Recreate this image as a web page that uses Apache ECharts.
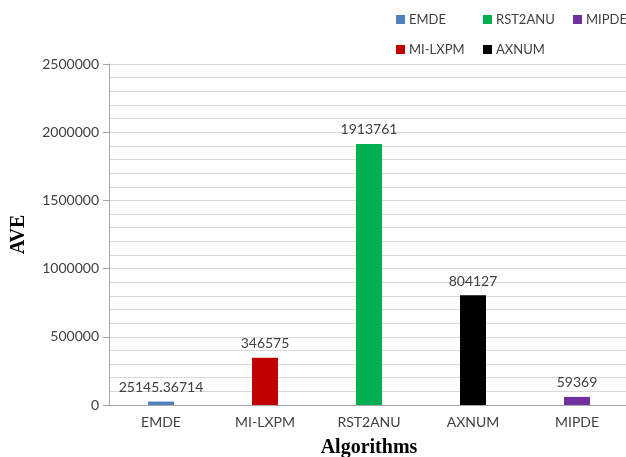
<!DOCTYPE html>
<html>
<head>
<meta charset="utf-8">
<script src="https://cdn.jsdelivr.net/npm/echarts@6/dist/echarts.min.js"></script>
<style>
  html, body { margin: 0; padding: 0; background: #ffffff; }
  #chart { width: 626px; height: 457px; }
</style>
</head>
<body>
<div id="chart"></div>
<script>
// Algorithm names on the category axis
const categories = ['EMDE', 'MI-LXPM', 'RST2ANU', 'AXNUM', 'MIPDE'];
// Average value for each algorithm
const aveValues = [25145.36714, 346575, 1913761, 804127, 59369];
// Colour for each algorithm's bar
const barColors = ['#4f81bd', '#c00000', '#00b050', '#000000', '#7030a0'];

const labelFont = 'Lato, "Open Sans", sans-serif';
const textColor = '#404040';

// One series per algorithm, each holding only its own category value
const series = categories.map((name, i) => ({
  name: name,
  type: 'bar',
  stack: 'ave',
  barWidth: 26,
  itemStyle: { color: barColors[i] },
  label: {
    show: true,
    position: 'top',
    distance: 7,
    color: textColor,
    fontFamily: labelFont,
    fontSize: 14,
    formatter: (p) => String(aveValues[p.dataIndex])
  },
  data: categories.map((c, j) => (j === i ? aveValues[i] : '-'))
}));

// Legend entries placed in two rows at the top right
const legendSpots = [
  { name: 'EMDE', left: 396, top: 13 },
  { name: 'RST2ANU', left: 483, top: 13 },
  { name: 'MIPDE', left: 573, top: 13 },
  { name: 'MI-LXPM', left: 396, top: 43 },
  { name: 'AXNUM', left: 483, top: 43 }
];
const legends = legendSpots.map(s => ({
  data: [s.name],
  left: s.left,
  top: s.top,
  padding: 0,
  icon: 'rect',
  itemWidth: 9,
  itemHeight: 9,
  itemGap: 0,
  selectedMode: false,
  textStyle: { color: textColor, fontFamily: labelFont, fontSize: 13, padding: [0, 0, 0, -1] }
}));

const chart = echarts.init(document.getElementById('chart'), null, { renderer: 'canvas' });
chart.setOption({
  animation: false,
  backgroundColor: '#ffffff',
  legend: legends,
  grid: { left: 109, top: 64, width: 520, height: 341, containLabel: false, outerBoundsMode: 'none' },
  xAxis: {
    type: 'category',
    data: categories,
    name: 'Algorithms',
    nameLocation: 'middle',
    nameGap: 33,
    nameTextStyle: { fontFamily: '"Liberation Serif", "Times New Roman", serif', fontWeight: 'bold', fontSize: 20, color: '#000000' },
    axisLine: { lineStyle: { color: '#a6a6a6', width: 1 } },
    axisTick: { show: false },
    axisLabel: { color: textColor, fontFamily: labelFont, fontSize: 14, margin: 10 }
  },
  yAxis: {
    type: 'value',
    min: 0,
    max: 2500000,
    interval: 500000,
    name: 'AVE',
    nameLocation: 'middle',
    nameRotate: 90,
    nameGap: 80,
    nameTextStyle: { fontFamily: '"Liberation Serif", "Times New Roman", serif', fontWeight: 'bold', fontSize: 20, color: '#000000' },
    axisLine: { show: true, lineStyle: { color: '#a6a6a6', width: 1 } },
    axisTick: { show: true, length: 6, lineStyle: { color: '#a6a6a6' } },
    axisLabel: { color: textColor, fontFamily: labelFont, fontSize: 14, margin: 10, formatter: (v) => String(v) },
    splitLine: { show: true, lineStyle: { color: '#d9d9d9', width: 1 } },
    minorTick: { show: false, splitNumber: 5 },
    minorSplitLine: { show: true, lineStyle: { color: '#d9d9d9', width: 1 } }
  },
  series: series
});
</script>
</body>
</html>
